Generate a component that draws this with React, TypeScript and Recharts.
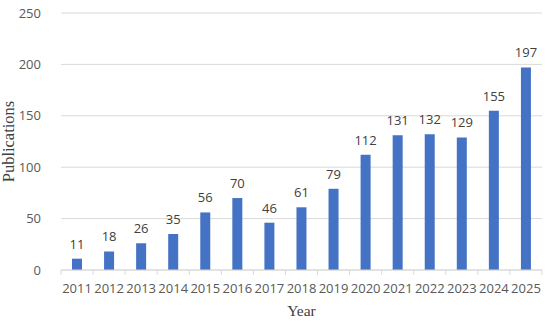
import React from 'react';
import { BarChart, Bar, XAxis, YAxis, CartesianGrid, LabelList } from 'recharts';

const years = ['2011', '2012', '2013', '2014', '2015', '2016', '2017', '2018', '2019', '2020', '2021', '2022', '2023', '2024', '2025'];
const publications = [11, 18, 26, 35, 56, 70, 46, 61, 79, 112, 131, 132, 129, 155, 197];
const yTicks = [0, 50, 100, 150, 200, 250];

const data = years.map((year, i) => ({ year, value: publications[i] }));

const tickFont = "'Open Sans', sans-serif";
const serif = "'Liberation Serif', 'Times New Roman', serif";

const YearTick = (props: any) => {
  const { x, y, payload, index } = props;
  const half = payload.offset || 16;
  const last = index === years.length - 1;
  return (
    <g>
      <line x1={x - half} y1={y - 8} x2={x - half} y2={y - 3} stroke="#d9d9d9" />
      {last && <line x1={x + half} y1={y - 8} x2={x + half} y2={y - 3} stroke="#d9d9d9" />}
      <text x={x} y={y + 15} textAnchor="middle" fill="#595959" fontSize={13} fontFamily={tickFont}>
        {payload.value}
      </text>
    </g>
  );
};

export default function App() {
  return (
    <div style={{ position: 'absolute', left: 0, top: 0, width: 550, height: 324, background: '#fff' }}>
      <BarChart width={550} height={324} data={data} margin={{ top: 13, right: 8, bottom: 0, left: 0 }}>
        <CartesianGrid vertical={false} stroke="#d9d9d9" />
        <XAxis
          dataKey="year"
          height={54}
          axisLine={{ stroke: '#d9d9d9' }}
          tickLine={false}
          interval={0}
          tick={<YearTick />}
          label={{ value: 'Year', position: 'insideBottom', offset: 8, fill: '#404040', fontSize: 15.5, fontFamily: serif }}
        />
        <YAxis
          width={61}
          domain={[0, 250]}
          ticks={yTicks}
          axisLine={false}
          tickLine={false}
          tickMargin={14}
          tick={{ fill: '#595959', fontSize: 13, fontFamily: tickFont }}
          label={{ value: 'Publications', angle: -90, position: 'insideLeft', offset: 8, style: { textAnchor: 'middle' }, fill: '#404040', fontSize: 16.5, fontFamily: serif }}
        />
        <Bar dataKey="value" fill="#4472C4" barSize={10} isAnimationActive={false}>
          <LabelList dataKey="value" position="top" offset={10} fill="#404040" fontSize={13} fontFamily={tickFont} />
        </Bar>
      </BarChart>
    </div>
  );
}
